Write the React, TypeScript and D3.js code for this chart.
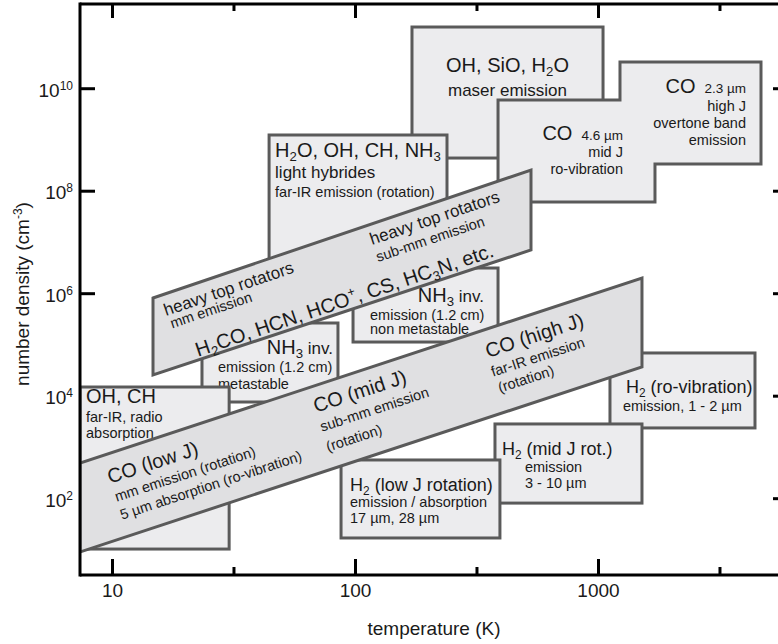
import React from "react";
import * as d3 from "d3";

// ---------- axes ----------
const tempDomain = [7.35, 6024];
const densityDomain = [3.24, 4.5e11];
const tempTickValues = [10, 100, 1000];
const tempTickLabels = ["10", "100", "1000"];
const tempMinorTickValues = [31.62, 316.2, 3162];
const densityTickValues = [1e2, 1e4, 1e6, 1e8, 1e10];
const densityTickExponents = ["2", "4", "6", "8", "10"];

// ---------- rectangular regions (temperature K, density cm^-3) ----------
const boxIds = ["maser", "h2o", "nh3nm", "nh3m", "ohch", "h2rv", "h2mid", "h2low"];
const boxTmin = [170.8, 44.1, 97.7, 23.35, 7.35, 1115, 375, 87.2];
const boxTmax = [1044, 238, 386, 84.7, 30.2, 4406, 1510, 393];
const boxNmin = [4.44e8, 3.0e6, 1.14e5, 7.7e3, 10.4, 2.4e3, 82, 17.1];
const boxNmax = [1.6e11, 1.25e9, 3.17e6, 2.68e5, 1.51e4, 6.97e4, 2.87e3, 569];

// ---------- CO ro-vibration / overtone region ----------
const coIrTemp = [386, 1226, 1226, 4664, 4664, 1708, 1708, 386];
const coIrDensity = [6.02e9, 6.02e9, 3.32e10, 3.32e10, 3.39e8, 3.39e8, 6.16e7, 6.16e7];

// ---------- slanted bands ----------
const bandIds = ["heavy", "co"];
const bandTmin = [14.68, 7.35];
const bandTmax = [527.5, 1510];
const bandNtopLeft = [8.25e5, 497];
const bandNbotLeft = [2.59e4, 9.12];
const bandNtopRight = [2.59e8, 2.025e6];
const bandNbotRight = [7.12e6, 3.71e4];

// ---------- label layout ----------
type Part = [string, number, number?];
type Line = { ref?: string; dx?: number; dy: number; anchor?: string; parts: Part[] };

const S = 14.5;
const boxLabels: Line[][] = [
  [
    { ref: "c", dy: 45, anchor: "middle", parts: [["OH, SiO, H_2O", 20]] },
    { ref: "c", dy: 69, anchor: "middle", parts: [["maser emission", 17]] },
  ],
  [
    { dx: 6, dy: 22, parts: [["H_2O, OH, CH, NH_3", 20]] },
    { dx: 6, dy: 43, parts: [["light hybrides", 17]] },
    { dx: 6, dy: 62, parts: [["far-IR emission (rotation)", S]] },
  ],
  [
    { ref: "r", dx: -14, dy: 34, anchor: "end", parts: [["NH_3", 20], [" inv.", 17]] },
    { dx: 17, dy: 52, parts: [["emission (1.2 cm)", S]] },
    { dx: 17, dy: 66, parts: [["non metastable", S]] },
  ],
  [
    { ref: "r", dx: -5, dy: 31, anchor: "end", parts: [["NH_3", 20], [" inv.", 17]] },
    { dx: 16, dy: 49, parts: [["emission (1.2 cm)", S]] },
    { dx: 16, dy: 66, parts: [["metastable", S]] },
  ],
  [
    { dx: 6, dy: 16, parts: [["OH, CH", 20]] },
    { dx: 6, dy: 35, parts: [["far-IR, radio", S]] },
    { dx: 6, dy: 51, parts: [["absorption", S]] },
  ],
  [
    { dx: 16, dy: 40, parts: [["H_2 (ro-vibration)", 18]] },
    { dx: 13, dy: 58, parts: [["emission, 1 - 2 µm", S]] },
  ],
  [
    { dx: 7, dy: 31, parts: [["H_2 (mid J rot.)", 18]] },
    { dx: 30, dy: 48, parts: [["emission", S]] },
    { dx: 30, dy: 64, parts: [["3 - 10 µm", S]] },
  ],
  [
    { dx: 9, dy: 31, parts: [["H_2 (low J rotation)", 18]] },
    { dx: 9, dy: 47, parts: [["emission / absorption", S]] },
    { dx: 9, dy: 63, parts: [["17 µm, 28 µm", S]] },
  ],
];

// CO 4.6 µm label: anchored at the top of the right edge of the lower-left box
const coIrLabel46: Line[] = [
  { dx: -32, dy: 40, anchor: "end", parts: [["CO", 20], ["4.6 µm", 13.5, 9]] },
  { dx: -32, dy: 57, anchor: "end", parts: [["mid J", S]] },
  { dx: -32, dy: 74, anchor: "end", parts: [["ro-vibration", S]] },
];
// CO 2.3 µm label: anchored at the upper-right corner
const coIrLabel23: Line[] = [
  { dx: -15, dy: 31, anchor: "end", parts: [["CO", 20], ["2.3 µm", 13.5, 9]] },
  { dx: -15, dy: 49, anchor: "end", parts: [["high J", S]] },
  { dx: -15, dy: 66, anchor: "end", parts: [["overtone band", S]] },
  { dx: -15, dy: 83, anchor: "end", parts: [["emission", S]] },
];

const bandLabels: { band: number; T: number; dy: number; parts: Part[] }[] = [
  { band: 0, T: 16.6, dy: 22.4, parts: [["heavy top rotators", 17]] },
  { band: 0, T: 17.6, dy: 37, parts: [["mm emission", S]] },
  { band: 0, T: 22.5, dy: 74, parts: [["H_2CO, HCN, HCO^+, CS, HC_3N, etc.", 20]] },
  { band: 0, T: 116.9, dy: 21.2, parts: [["heavy top rotators", 17]] },
  { band: 0, T: 123.8, dy: 40.2, parts: [["sub-mm emission", S]] },
  { band: 1, T: 9.76, dy: 30.6, parts: [["CO (low J)", 20]] },
  { band: 1, T: 10.4, dy: 50.9, parts: [["mm emission (rotation)", S]] },
  { band: 1, T: 10.94, dy: 70.5, parts: [["5 µm absorption (ro-vibration)", S]] },
  { band: 1, T: 68.8, dy: 27.5, parts: [["CO (mid J)", 20]] },
  { band: 1, T: 72.8, dy: 48.5, parts: [["sub-mm emission", S]] },
  { band: 1, T: 77.1, dy: 70.5, parts: [["(rotation)", S]] },
  { band: 1, T: 351, dy: 29.2, parts: [["CO (high J)", 20]] },
  { band: 1, T: 368, dy: 49.8, parts: [["far-IR emission", S]] },
  { band: 1, T: 393, dy: 68, parts: [["(rotation)", S]] },
];

const FONT = "'Liberation Sans', Arial, Helvetica, sans-serif";
const PLOT = { left: 80, right: 788, top: 4, bottom: 575 };
const BOX_FILL = "#ececee";
const BAND_FILL = "#e0e0e2";
const EDGE = "#5a5a5a";
const TEXT = "#1a1a1a";

function parseMarkup(s: string) {
  const segs: { t: string; kind: string }[] = [];
  let buf = "";
  for (let i = 0; i < s.length; i++) {
    const c = s[i];
    if (c === "_" || c === "^") {
      if (buf) segs.push({ t: buf, kind: "n" });
      buf = "";
      let t = "";
      if (s[i + 1] === "{") {
        const j = s.indexOf("}", i + 2);
        t = s.slice(i + 2, j);
        i = j;
      } else {
        t = s[i + 1];
        i += 1;
      }
      segs.push({ t, kind: c === "_" ? "sub" : "sup" });
    } else buf += c;
  }
  if (buf) segs.push({ t: buf, kind: "n" });
  return segs;
}

function renderParts(parts: Part[], key: string) {
  const out: any[] = [];
  let shift = 0;
  parts.forEach(([str, size, dxExtra], pi) => {
    parseMarkup(str).forEach((seg, si) => {
      let target = 0;
      let fs = size;
      if (seg.kind === "sub") {
        target = size * 0.22;
        fs = size * 0.66;
      } else if (seg.kind === "sup") {
        target = -size * 0.4;
        fs = size * 0.66;
      }
      const dy = target - shift;
      shift = target;
      out.push(
        <tspan
          key={`${key}-${pi}-${si}`}
          fontSize={fs}
          dy={dy !== 0 ? dy : undefined}
          dx={si === 0 && dxExtra ? dxExtra : undefined}
        >
          {seg.t}
        </tspan>
      );
    });
  });
  return out;
}

export default function App() {
  const x = d3.scaleLog().domain(tempDomain).range([PLOT.left, PLOT.right]);
  const y = d3.scaleLog().domain(densityDomain).range([PLOT.bottom, PLOT.top]);
  const line = d3.line<[number, number]>();

  const boxes = boxIds.map((id, i) => ({
    id,
    x0: x(boxTmin[i]),
    x1: x(boxTmax[i]),
    y0: y(boxNmax[i]),
    y1: y(boxNmin[i]),
    labels: boxLabels[i],
  }));

  const coPts: [number, number][] = coIrTemp.map((t, i) => [x(t), y(coIrDensity[i])]);

  const bands = bandIds.map((id, i) => {
    const xL = x(bandTmin[i]);
    const xR = x(bandTmax[i]);
    const yTL = y(bandNtopLeft[i]);
    const yTR = y(bandNtopRight[i]);
    const yBL = y(bandNbotLeft[i]);
    const yBR = y(bandNbotRight[i]);
    const pts: [number, number][] = [
      [xL, yTL],
      [xR, yTR],
      [xR, yBR],
      [xL, yBL],
    ];
    const angle = (Math.atan2(yTR - yTL, xR - xL) * 180) / Math.PI;
    return { id, xL, xR, yTL, yTR, pts, angle };
  });

  const boxEls = (ids: string[]) =>
    boxes
      .filter((b) => ids.includes(b.id))
      .map((b) => (
        <g key={b.id}>
          <rect
            x={b.x0}
            y={b.y0}
            width={b.x1 - b.x0}
            height={b.y1 - b.y0}
            fill={BOX_FILL}
            stroke={EDGE}
            strokeWidth={3}
          />
          {b.labels.map((ln, li) => {
            const bx = ln.ref === "r" ? b.x1 : ln.ref === "c" ? (b.x0 + b.x1) / 2 : b.x0;
            return (
              <text
                key={li}
                x={bx + (ln.dx || 0)}
                y={b.y0 + ln.dy}
                textAnchor={ln.anchor || "start"}
                fill={TEXT}
                style={{ whiteSpace: "pre" }}
              >
                {renderParts(ln.parts, `${b.id}${li}`)}
              </text>
            );
          })}
        </g>
      ));

  const coAnchor46: [number, number] = [coPts[5][0], coPts[0][1]];
  const coAnchor23: [number, number] = coPts[3];

  return (
    <svg
      width={778}
      height={644}
      style={{ position: "absolute", left: 0, top: 0, background: "#fff" }}
      fontFamily={FONT}
    >
      <defs>
        <clipPath id="plotclip">
          <rect x={PLOT.left} y={PLOT.top} width={PLOT.right - PLOT.left} height={PLOT.bottom - PLOT.top} />
        </clipPath>
      </defs>

      {/* ticks (under the regions) */}
      <g stroke="#000" strokeWidth={3} fill="none">
        {tempTickValues.map((t) => (
          <g key={"tm" + t}>
            <line x1={x(t)} x2={x(t)} y1={PLOT.bottom} y2={PLOT.bottom - 16} />
            <line x1={x(t)} x2={x(t)} y1={PLOT.top} y2={PLOT.top + 14} />
          </g>
        ))}
        {tempMinorTickValues.map((t) => (
          <g key={"tn" + t}>
            <line x1={x(t)} x2={x(t)} y1={PLOT.bottom} y2={PLOT.bottom - 8} />
            <line x1={x(t)} x2={x(t)} y1={PLOT.top} y2={PLOT.top + 7} />
          </g>
        ))}
        {densityTickValues.map((n) => (
          <g key={"d" + n}>
            <line x1={PLOT.left} x2={PLOT.left + 15} y1={y(n)} y2={y(n)} />
            <line x1={PLOT.right} x2={PLOT.right - 15} y1={y(n)} y2={y(n)} />
          </g>
        ))}
      </g>

      <g clipPath="url(#plotclip)">
        {boxEls(["maser", "h2o"])}
        <path d={line(coPts) + "Z"} fill={BOX_FILL} stroke={EDGE} strokeWidth={3} />
        {[...coIrLabel46.map((l) => ({ l, a: coAnchor46 })), ...coIrLabel23.map((l) => ({ l, a: coAnchor23 }))].map(
          ({ l, a }, i) => (
            <text
              key={"co" + i}
              x={a[0] + (l.dx || 0)}
              y={a[1] + l.dy}
              textAnchor={l.anchor || "start"}
              fill={TEXT}
              style={{ whiteSpace: "pre" }}
            >
              {renderParts(l.parts, "co" + i)}
            </text>
          )
        )}
        {boxEls(["nh3nm", "nh3m", "ohch", "h2rv", "h2mid", "h2low"])}
        {bands.map((b, bi) => (
          <g key={b.id}>
            <path d={line(b.pts) + "Z"} fill={BAND_FILL} stroke={EDGE} strokeWidth={3} />
            {bandLabels
              .filter((l) => l.band === bi)
              .map((l, li) => {
                const px = x(l.T);
                const t = (px - b.xL) / (b.xR - b.xL);
                const py = b.yTL + t * (b.yTR - b.yTL) + l.dy;
                return (
                  <text
                    key={li}
                    transform={`translate(${px},${py}) rotate(${b.angle})`}
                    fill={TEXT}
                    style={{ whiteSpace: "pre" }}
                  >
                    {renderParts(l.parts, `${b.id}${li}`)}
                  </text>
                );
              })}
          </g>
        ))}
      </g>

      {/* frame */}
      <g stroke="#000" strokeWidth={3} fill="none">
        <line x1={PLOT.left} x2={PLOT.left} y1={PLOT.top - 1.5} y2={PLOT.bottom + 1.5} />
        <line x1={PLOT.left} x2={PLOT.right} y1={PLOT.bottom} y2={PLOT.bottom} />
        <line x1={PLOT.left} x2={PLOT.right} y1={PLOT.top} y2={PLOT.top} />
        <line x1={PLOT.right} x2={PLOT.right} y1={PLOT.top} y2={PLOT.bottom} />
      </g>

      {tempTickValues.map((t, i) => (
        <text key={"tl" + t} x={x(t)} y={597} textAnchor="middle" fontSize={19} fill={TEXT}>
          {tempTickLabels[i]}
        </text>
      ))}
      {densityTickValues.map((n, i) => (
        <text key={"dl" + n} x={73} y={y(n) + 8} textAnchor="end" fontSize={19} fill={TEXT}>
          10
          <tspan dy={-7} fontSize={12}>
            {densityTickExponents[i]}
          </tspan>
        </text>
      ))}
      <text x={(PLOT.left + PLOT.right) / 2} y={635} textAnchor="middle" fontSize={19} fill={TEXT}>
        temperature (K)
      </text>
      <text transform="translate(29,294) rotate(-90)" textAnchor="middle" fontSize={19} fill={TEXT}>
        number density (cm
        <tspan dy={-7} fontSize={12}>
          -3
        </tspan>
        <tspan dy={7}>)</tspan>
      </text>
    </svg>
  );
}
